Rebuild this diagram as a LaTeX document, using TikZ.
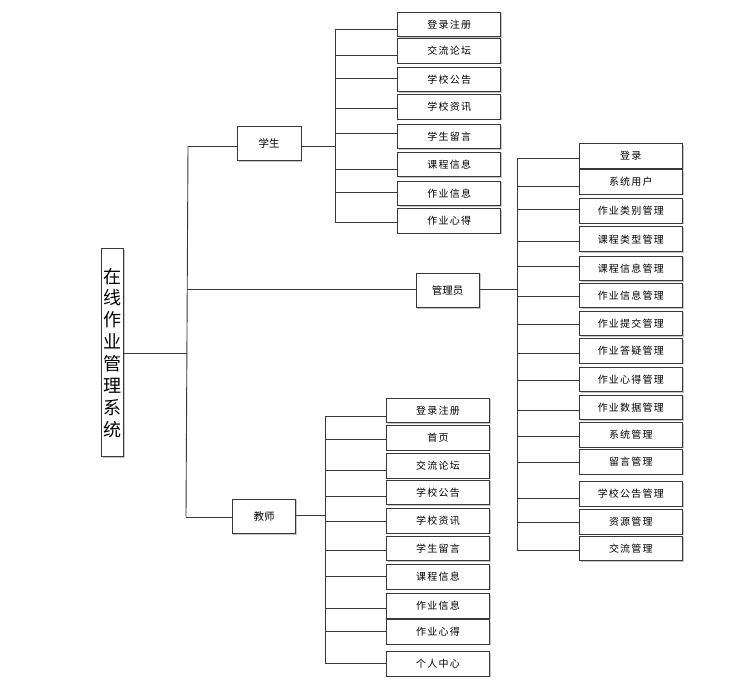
\documentclass[tikz,border=0pt]{standalone}
\usepackage{fontspec}
\newfontfamily\cjk{Noto Sans CJK SC}
\newfontfamily\cjksp[LetterSpace=12]{Noto Sans CJK SC}
\usetikzlibrary{shadows}
\tikzset{
  box/.style={draw=black!78, line width=0.9pt, fill=white, inner sep=0pt, outer sep=0pt,
    drop shadow={shadow xshift=1.2pt, shadow yshift=-1.2pt, fill=black!22, opacity=1}},
  leaf/.style={box, minimum width=103pt, minimum height=24.5pt, font=\cjksp\fontsize{10}{12}\selectfont},
  mid/.style={box, minimum width=63.5pt, minimum height=34.5pt, font=\cjk\fontsize{10.5}{12}\selectfont},
  wire/.style={draw=black!78, line width=0.9pt}
}
\begin{document}
\begin{tikzpicture}[x=1pt,y=-1pt]
\useasboundingbox[fill=white] (0,0) rectangle (729,690);
% root
\node[box, minimum width=22pt, minimum height=207.7pt, align=center,
  font=\cjk\fontsize{18}{21.9}\selectfont] (root) at (112.3,352.8)
  {在\\线\\作\\业\\管\\理\\系\\统};
% level 1
\node[mid] (stu) at (269.2,143.5) {学生};
\node[mid] (adm) at (447.7,290.5) {管理员};
\node[mid] (tea) at (264,516.2) {教师};
% student leaves
\node[leaf] (s1) at (449.2,24.5) {登录注册};
\node[leaf] (s2) at (449.2,50.8) {交流论坛};
\node[leaf] (s3) at (449.2,79.7) {学校公告};
\node[leaf] (s4) at (449.2,107) {学校资讯};
\node[leaf] (s5) at (449.2,136.7) {学生留言};
\node[leaf] (s6) at (449.2,164.5) {课程信息};
\node[leaf] (s7) at (449.2,193.5) {作业信息};
\node[leaf] (s8) at (449.2,221) {作业心得};
% admin leaves
\node[leaf] (a1) at (630.8,156.2) {登录};
\node[leaf] (a2) at (630.8,182) {系统用户};
\node[leaf] (a3) at (630.8,210.8) {作业类别管理};
\node[leaf] (a4) at (630.8,239.2) {课程类型管理};
\node[leaf] (a5) at (630.8,268.2) {课程信息管理};
\node[leaf] (a6) at (630.8,295.5) {作业信息管理};
\node[leaf] (a7) at (630.8,323.4) {作业提交管理};
\node[leaf] (a8) at (630.8,350.8) {作业答疑管理};
\node[leaf] (a9) at (630.8,379.2) {作业心得管理};
\node[leaf] (a10) at (630.8,407.2) {作业数据管理};
\node[leaf] (a11) at (630.8,435) {系统管理};
\node[leaf] (a12) at (630.8,461.7) {留言管理};
\node[leaf] (a13) at (630.8,493.8) {学校公告管理};
\node[leaf] (a14) at (630.8,522) {资源管理};
\node[leaf] (a15) at (630.8,548.5) {交流管理};
% teacher leaves
\node[leaf, minimum width=102.6pt] (t1) at (438,410.5) {登录注册};
\node[leaf, minimum width=102.6pt] (t2) at (438,437.8) {首页};
\node[leaf, minimum width=102.6pt] (t3) at (438,465.8) {交流论坛};
\node[leaf, minimum width=102.6pt] (t4) at (438,492.2) {学校公告};
\node[leaf, minimum width=102.6pt] (t5) at (438,521) {学校资讯};
\node[leaf, minimum width=102.6pt] (t6) at (438,548.3) {学生留言};
\node[leaf, minimum width=102.6pt] (t7) at (438,577) {课程信息};
\node[leaf, minimum width=102.6pt] (t8) at (438,605.7) {作业信息};
\node[leaf, minimum width=102.6pt] (t9) at (438,631.8) {作业心得};
\node[leaf, minimum width=102.6pt] (t10) at (438,663.8) {个人中心};
% trunk
\coordinate (trTop) at (188,146);
\coordinate (trBot) at (186,517);
\draw[wire] (trTop) -- (trBot);
\draw[wire] (root.east |- 0,353) -- (187,353);
\draw[wire] (trTop) -- (trTop -| stu.west);
\draw[wire] (187,289) -- (187,289 -| adm.west);
\draw[wire] (trBot) -- (trBot -| tea.west);
% student bus
\draw[wire] (335,29) -- (335,222);
\draw[wire] (stu.east |- 0,146) -- (335,146);
\foreach \n/\y in {s1/29,s2/55,s3/78,s4/108,s5/133.7,s6/169,s7/192,s8/222}
  \draw[wire] (335,\y) -- (335,\y -| \n.west);
% admin bus
\draw[wire] (517.5,158.3) -- (517.5,550.7);
\draw[wire] (adm.east |- 0,289) -- (517.5,289);
\foreach \n/\y in {a1/158.3,a2/186,a3/209.5,a4/241.7,a5/266.7,a6/296.7,a7/324,a8/353.3,a9/380.7,a10/410,a11/436.7,a12/462.3,a13/498.3,a14/522.3,a15/550.7}
  \draw[wire] (517.5,\y) -- (517.5,\y -| \n.west);
% teacher bus
\draw[wire] (325,416.7) -- (325,663.3);
\draw[wire] (tea.east |- 0,515.5) -- (325,515.5);
\foreach \n/\y in {t1/416.7,t2/439.3,t3/470,t4/496.7,t5/521.7,t6/550,t7/576.7,t8/608.3,t9/631.7,t10/663.3}
  \draw[wire] (325,\y) -- (325,\y -| \n.west);
\end{tikzpicture}
\end{document}
